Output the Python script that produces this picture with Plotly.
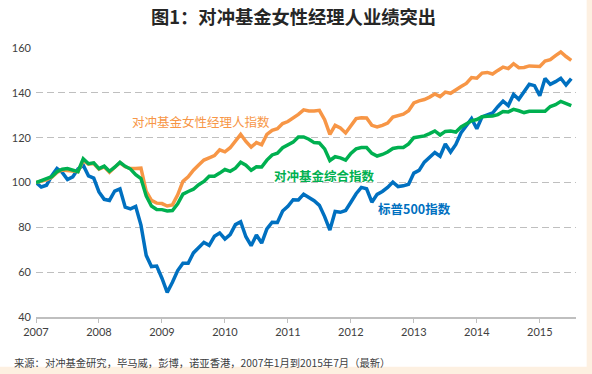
import plotly.graph_objects as go

# Month index 0 = Jan 2007 ... 102 = Jul 2015
year_labels = ["2007", "2008", "2009", "2010", "2011", "2012", "2013", "2014", "2015"]
year_ticks = [0, 12, 24, 36, 48, 60, 72, 84, 96]

women_index = [
    100, 100.5, 101.2, 102.3, 104.5, 105.6, 105.2, 105.0, 104.8, 109.8, 108.2, 108.5,
    106.0, 107.0, 104.6, 106.8, 108.8, 107.0, 106.2, 106.2, 106.4, 96.0, 92.0, 90.8,
    90.6, 89.5, 90.0, 94.5, 100.5, 102.5, 105.5, 107.8, 110.0, 111.0, 112.0, 114.6,
    113.7, 115.5, 118.5, 121.5, 118.3, 115.8, 117.8, 116.8, 121.5, 123.3, 124.0, 126.3,
    127.2, 128.6, 130.4, 132.4, 131.9, 131.9, 132.2, 128.0, 121.5, 125.5, 124.3, 122.1,
    125.5, 128.5, 128.9, 128.8, 125.5, 124.8, 125.5, 126.5, 129.2, 130.0, 130.5, 132.0,
    135.5, 136.4, 137.0, 138.1, 139.5, 138.3, 140.3, 139.8, 141.5, 142.8, 144.2, 146.8,
    146.5, 148.8, 149.1, 148.4, 150.0, 151.5, 150.8, 153.0, 151.2, 151.3, 152.0, 151.9,
    151.8, 154.2, 154.8, 156.6, 158.2, 156.2, 154.5,
]

composite_index = [
    100, 100.8, 101.6, 102.6, 104.8, 105.9, 106.2, 105.5, 104.8, 110.6, 108.4, 108.8,
    106.2, 107.3, 105.0, 106.8, 109.0, 107.2, 106.0, 103.5, 101.8, 94.0, 89.5, 88.0,
    87.9, 87.3, 87.5, 90.5, 94.8, 96.0, 97.0, 99.0, 100.5, 102.8, 102.8, 104.2,
    105.8, 105.0, 106.4, 109.0, 107.7, 105.5, 107.0, 106.9, 110.0, 112.3, 113.1, 115.5,
    116.8, 118.0, 120.3, 120.3, 119.3, 117.8, 117.6, 115.0, 109.8, 111.5, 111.0, 110.0,
    113.0, 115.0, 115.6, 115.6, 113.0, 111.8, 112.5, 113.6, 115.2, 115.6, 115.6, 117.2,
    120.0, 120.4, 120.8, 121.8, 123.0, 121.2, 122.8, 123.0, 122.5, 124.8, 126.1, 127.5,
    128.1, 129.3, 129.6, 129.7, 130.3, 131.7, 131.5, 132.6, 132.0, 131.2, 131.8, 131.9,
    131.9, 131.8, 133.9, 134.7, 136.2, 135.2, 134.3,
]

sp500_index = [
    100, 98.0, 98.8, 103.0, 106.3, 104.5, 101.3, 102.5, 106.0, 107.7, 103.0, 102.0,
    95.8, 92.5, 92.0, 96.2, 97.2, 89.0, 88.2, 89.3, 81.0, 67.5, 62.5, 62.7,
    57.3, 51.0, 55.5, 60.7, 64.0, 64.0, 68.6, 71.0, 73.3, 72.0, 76.0, 77.5,
    74.8, 76.8, 81.2, 82.5, 75.8, 71.8, 76.6, 73.0, 79.3, 82.3, 82.2, 87.3,
    89.4, 92.3, 92.2, 94.8, 93.5, 91.9, 89.8, 84.8, 78.8, 87.1, 86.7, 87.5,
    91.2, 95.0, 97.8, 97.2, 91.2, 94.7, 96.0, 97.8, 100.2, 98.2, 98.5, 99.2,
    104.2, 105.4, 109.1, 111.1, 113.4, 111.7, 117.2, 113.6, 117.0, 122.2, 125.6, 128.5,
    124.0, 129.3, 130.2, 131.0, 133.8, 136.3, 134.3, 139.3, 137.1, 140.3, 143.8, 143.2,
    138.7, 146.4, 143.8, 145.0, 146.5, 143.5, 146.3,
]

months = list(range(len(sp500_index)))

ORANGE = "#F79646"
GREEN = "#00B050"
BLUE = "#0070C0"
CJK = "Noto Sans CJK SC"
TICKFONT = dict(family="Lato, Noto Sans, sans-serif", size=11, color="#404040")

fig = go.Figure()
fig.add_trace(go.Scatter(x=months, y=sp500_index, mode="lines",
                         line=dict(color=BLUE, width=3.5), name="标普500指数"))
fig.add_trace(go.Scatter(x=months, y=women_index, mode="lines",
                         line=dict(color=ORANGE, width=3.5), name="对冲基金女性经理人指数"))
fig.add_trace(go.Scatter(x=months, y=composite_index, mode="lines",
                         line=dict(color=GREEN, width=3.5), name="对冲基金综合指数"))

annotations = [
    dict(x=31.4, y=127.4, xref="x", yref="y", text="对冲基金女性经理人指数",
         showarrow=False, font=dict(family=CJK, size=12.5, color=ORANGE)),
    dict(x=55.0, y=103.2, xref="x", yref="y", text="<b>对冲基金综合指数</b>",
         showarrow=False, font=dict(family=CJK, size=12.5, color=GREEN)),
    dict(x=72.1, y=88.4, xref="x", yref="y", text="<b>标普500指数</b>",
         showarrow=False, font=dict(family=CJK, size=12.5, color=BLUE)),
    dict(x=(292 - 34) / 542, y=(317 - 16) / 269, xref="paper", yref="paper",
         text="<b>图1：对冲基金女性经理人业绩突出</b>", showarrow=False,
         xanchor="center", yanchor="middle",
         font=dict(family=CJK, size=18.3, color="#262626")),
    dict(x=(10 - 34) / 542, y=(317 - 362) / 269, xref="paper", yref="paper",
         text="来源：对冲基金研究，毕马威，彭博，诺亚香港，2007年1月到2015年7月（最新）",
         showarrow=False, xanchor="left", yanchor="middle",
         font=dict(family=CJK, size=10.3, color="#404040")),
]

shapes = [
    dict(type="rect", xref="paper", yref="paper",
         x0=(586.7 - 34) / 542, x1=1.05, y0=-0.25, y1=1.25,
         fillcolor="#FDF0E1", line=dict(width=0), layer="above"),
    dict(type="rect", xref="paper", yref="paper",
         x0=-0.1, x1=1.05, y0=-0.25, y1=(317 - 366.7) / 269,
         fillcolor="#FDF0E1", line=dict(width=0), layer="above"),
]

fig.update_layout(
    width=592, height=374,
    margin=dict(l=34, r=16, t=48, b=57, pad=0),
    paper_bgcolor="white", plot_bgcolor="white",
    showlegend=False,
    annotations=annotations,
    shapes=shapes,
    xaxis=dict(
        range=[0, 102.9], tickmode="array", tickvals=year_ticks, ticktext=year_labels,
        showgrid=False, zeroline=False, showline=True, linecolor="#BFBFBF", linewidth=1.5,
        ticks="outside", ticklen=4, tickcolor="#BFBFBF", tickwidth=1,
        tickfont=TICKFONT,
    ),
    yaxis=dict(
        range=[40, 160], tickmode="array", tickvals=[40, 60, 80, 100, 120, 140, 160],
        showgrid=True, gridcolor="#BFBFBF", griddash="7px,4px", gridwidth=1.2,
        zeroline=False, showline=False, ticks="", tickfont=TICKFONT,
        ticklabelstandoff=4,
    ),
)

fig.write_html(
    "out.html",
    config={"displayModeBar": False},
    post_script="document.body.style.margin='0';document.body.style.overflow='hidden';",
)
